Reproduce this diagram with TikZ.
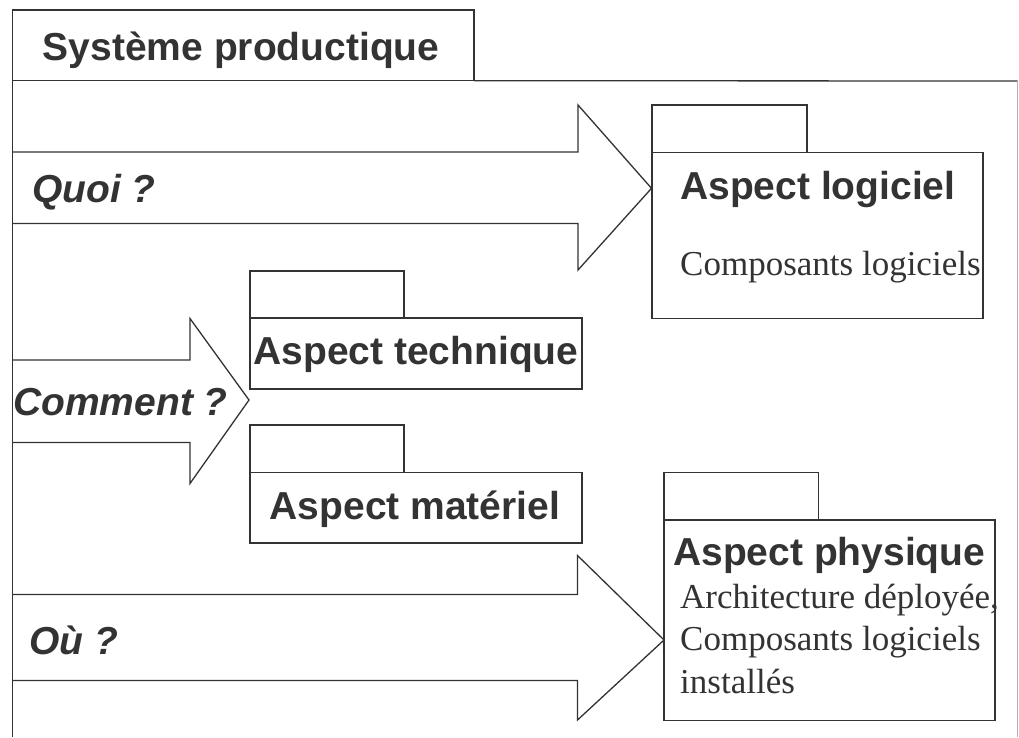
\documentclass[tikz,border=0pt]{standalone}
\usepackage{fontspec}
\setmainfont{Liberation Serif}
\setsansfont{Liberation Sans}
\definecolor{ink}{HTML}{333333}
\tikzset{
  box/.style={draw=ink, line width=1.3pt, fill=white, inner sep=0pt, outer sep=0pt, anchor=north west},
  lbl/.style={anchor=base west, inner sep=0pt, text=ink, font=\sffamily\bfseries\fontsize{39}{45}\selectfont},
  clbl/.style={lbl, anchor=base},
  qlbl/.style={lbl, font=\sffamily\bfseries\itshape\fontsize{39}{45}\selectfont},
  txt/.style={anchor=base west, inner sep=0pt, text=ink, font=\fontsize{35}{43}\selectfont},
  bigarrow/.style={draw=ink, line width=1.3pt, line join=miter}
}
\begin{document}
\begin{tikzpicture}[x=1pt,y=-1pt]
\useasboundingbox (0,0) rectangle (1019,737);
% frame
\node[box, minimum width=461.5pt, minimum height=70.7pt] (titletab) at (12.5,10) {};
\draw[ink, line width=1.3pt] (titletab.south west) -- (12.5,737);
\coordinate (frameNE) at (1017.5,81);
\draw[ink, line width=1.3pt] (titletab.south east) -- (frameNE);
\draw[gray!60, line width=1pt] (frameNE) -- (1017.5,737);
\node[lbl] (title) at (42.7,60) {Système productique};

% big arrows
\draw[bigarrow] (12.5,152) -- (578,152) -- (578,105) -- (651.5,188.3) -- (578,270) -- (578,223.5) -- (12.5,223.5);
\draw[bigarrow] (12.5,360) -- (190,360) -- (190,318.5) -- (249,400) -- (190,483.5) -- (190,442.5) -- (12.5,442.5);
\draw[bigarrow] (12.5,594.5) -- (577.5,594.5) -- (577.5,555.5) -- (664,640) -- (577.5,720) -- (577.5,680.5) -- (12.5,680.5);
\node[qlbl] (quoi) at (32,202) {Quoi ?};
\node[qlbl] (comment) at (13,415) {Comment ?};
\node[qlbl] (ou) at (29,654) {Où ?};

% Aspect logiciel
\node[box, minimum width=155pt, minimum height=47.3pt] (logtab) at (652,105) {};
\node[box, minimum width=331pt, minimum height=166pt] (logbody) at (652,152.3) {};
\node[lbl] (logtitle) at (680,199) {Aspect logiciel};
\node[txt] (logtxt) at (680,275) {Composants logiciels};

% Aspect technique
\node[box, minimum width=154pt, minimum height=47pt] (techtab) at (250,271) {};
\node[box, minimum width=332pt, minimum height=71pt] (techbody) at (250,318) {};
\node[clbl] (techtitle) at (416,364) {Aspect technique};

% Aspect materiel
\node[box, minimum width=154pt, minimum height=47.5pt] (mattab) at (250,425) {};
\node[box, minimum width=332pt, minimum height=70.5pt] (matbody) at (250,472.5) {};
\node[clbl] (mattitle) at (415,519) {Aspect matériel};

% Aspect physique
\node[box, minimum width=154.3pt, minimum height=47.5pt] (phystab) at (664,472.5) {};
\node[box, minimum width=331pt, minimum height=200.5pt] (physbody) at (664,520) {};
\node[lbl] (phystitle) at (673,565) {Aspect physique};
\node[txt] (phys1) at (680,608) {Architecture déployée,};
\node[txt] (phys2) at (680,650.5) {Composants logiciels};
\node[txt] (phys3) at (680,693) {installés};
\end{tikzpicture}
\end{document}
